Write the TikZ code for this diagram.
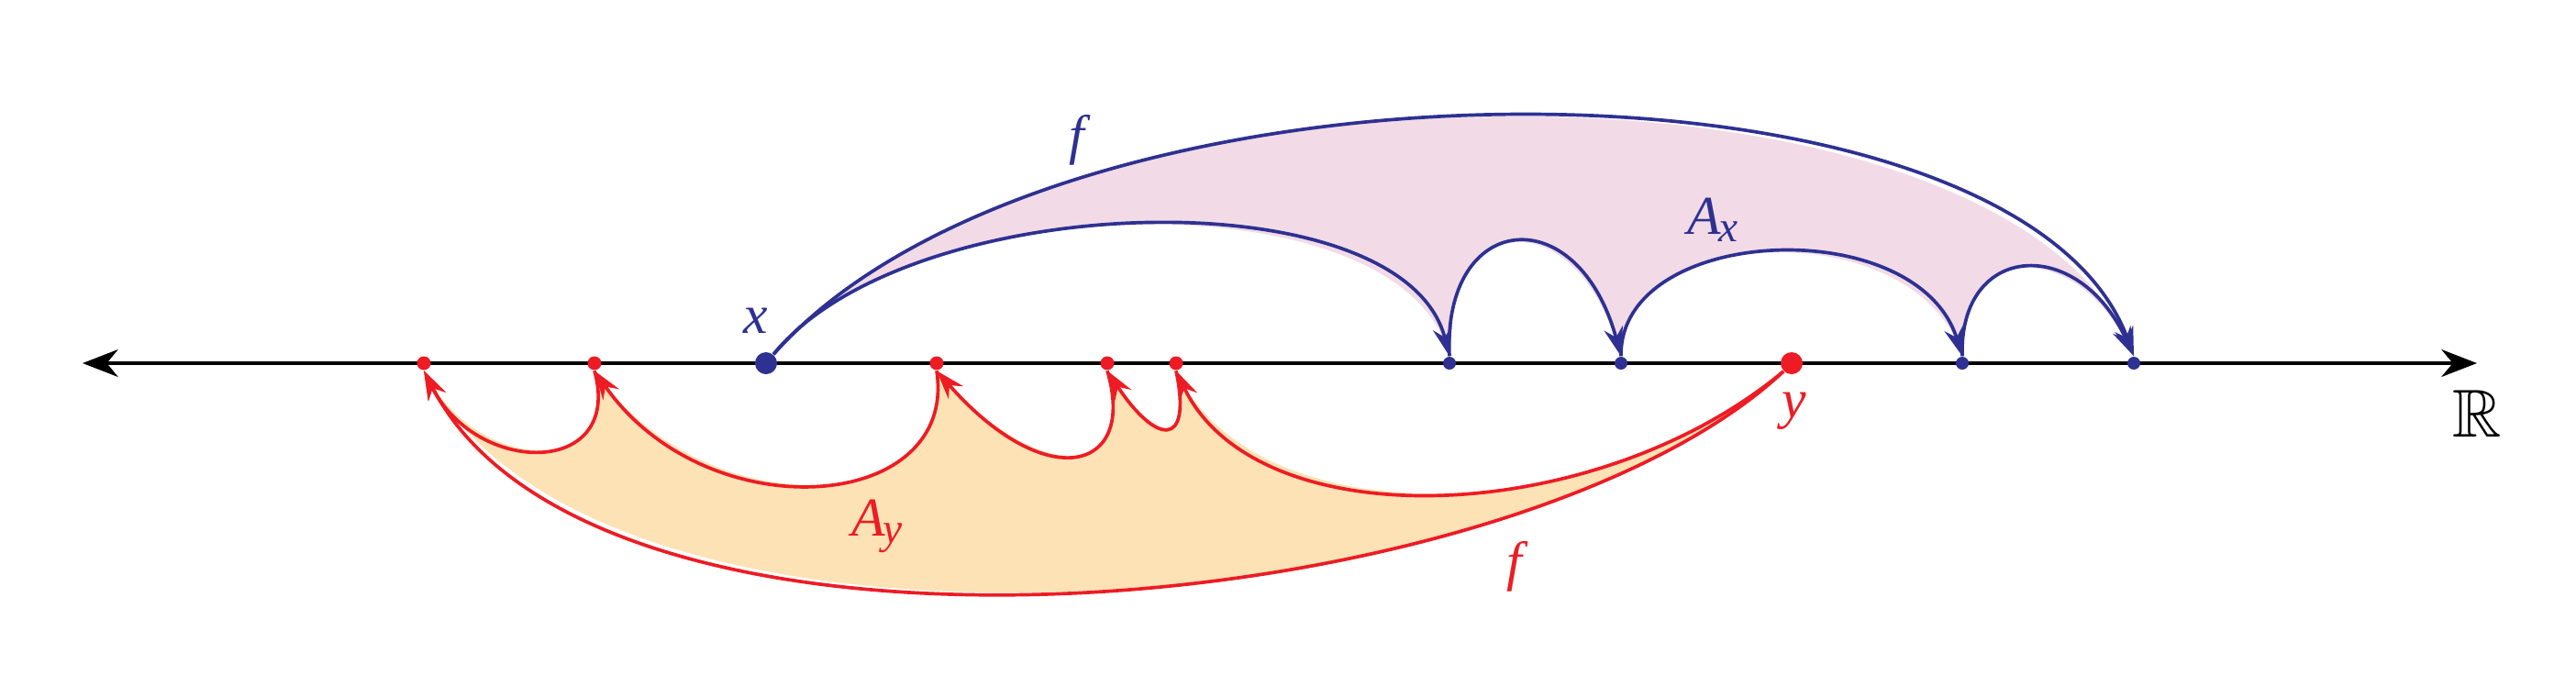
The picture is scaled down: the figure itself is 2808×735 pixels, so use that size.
\documentclass[tikz,border=0pt]{standalone}
\usepackage{amssymb}
\usepackage{fontspec}
\setmainfont{Liberation Serif}
\usetikzlibrary{arrows.meta}
\definecolor{fblue}{RGB}{46,49,146}
\definecolor{fred}{RGB}{237,28,36}
\definecolor{fpink}{RGB}{242,219,230}
\definecolor{forange}{RGB}{253,226,181}
\newcommand{\subtxt}[1]{\raisebox{-2.4pt}{\fontsize{13.5}{14}\selectfont #1}}

\begin{document}
\begin{tikzpicture}[
x=0.01cm,y=-0.01cm,
bigdot/.style={
  circle,
  inner sep=0pt,
  minimum size=0.24cm},
bluedot/.style={
  circle,
  fill=fblue,
  inner sep=0pt,
  minimum size=0.14cm},
reddot/.style={
  circle,
  fill=fred,
  inner sep=0pt,
  minimum size=0.15cm},
bluearc/.style={
  draw=fblue,
  line width=1.05pt,
  -{Stealth[length=9pt,width=6pt,inset=3pt]}},
redarc/.style={
  draw=fred,
  line width=1.05pt,
  -{Stealth[length=9pt,width=6pt,inset=3pt]}},
lbl/.style={
  font=\fontsize{17}{20}\selectfont\itshape}
]
\useasboundingbox (0,0) rectangle (2808,735);
% the real line
\coordinate (L) at (90,396);
\coordinate (Rt) at (2700,396);
\draw[line width=0.95pt,
  {Stealth[length=11pt,width=8.5pt,inset=3.5pt]}-{Stealth[length=11pt,width=8.5pt,inset=3.5pt]}]
  (L) -- (Rt);
% points
\node[bigdot,fill=fblue] (x) at (835,396) {};
\node[bigdot,fill=fred] (y) at (1953,396) {};
\foreach \Nodo/\px in {b1/1580,b2/1767,b3/2139,b4/2326}
  \node[bluedot] (\Nodo) at (\px,396) {};
\foreach \Nodo/\px in {r1/462,r2/648,r3/1021,r4/1207,r5/1282}
  \node[reddot] (\Nodo) at (\px,396) {};
% A_x and A_y
\fill[fpink]
  (x.50) .. controls (990,205) and (1530,190) .. (b1.north)
  .. controls (1572,230) and (1720,215) .. (b2.north)
  .. controls (1765,245) and (2090,230) .. (b3.north)
  .. controls (2135,265) and (2265,255) .. (b4.north)
  .. controls (2200,40) and (1150,40) .. (x.50) -- cycle;
\fill[forange]
  (y.225) .. controls (1740,575) and (1370,590) .. (r5.south)
  .. controls (1300,490) and (1260,485) .. (r4.south)
  .. controls (1240,515) and (1140,540) .. (r3.south)
  .. controls (1045,560) and (770,580) .. (r2.south)
  .. controls (680,520) and (520,520) .. (r1.south)
  .. controls (650,770) and (1650,680) .. (y.225) -- cycle;
% orbit of x
\draw[bluearc] (x.50) .. controls (1150,40) and (2200,40) .. (b4.north);
\draw[bluearc] (x.50) .. controls (990,205) and (1530,190) .. (b1.north);
\draw[bluearc] (b1.north) .. controls (1572,230) and (1720,215) .. (b2.north);
\draw[bluearc] (b2.north) .. controls (1765,245) and (2090,230) .. (b3.north);
\draw[bluearc] (b3.north) .. controls (2135,265) and (2265,255) .. (b4.north);
% orbit of y
\draw[redarc] (y.225) .. controls (1650,680) and (650,770) .. (r1.south);
\draw[redarc] (y.225) .. controls (1740,575) and (1370,590) .. (r5.south);
\draw[redarc] (r5.south) .. controls (1300,490) and (1260,485) .. (r4.south);
\draw[redarc] (r4.south) .. controls (1240,515) and (1140,540) .. (r3.south);
\draw[redarc] (r3.south) .. controls (1045,560) and (770,580) .. (r2.south);
\draw[redarc] (r2.south) .. controls (680,520) and (520,520) .. (r1.south);
% labels
\node[lbl,text=fblue] (xlab) at (824,350) {x};
\node[lbl,text=fred] (ylab) at (1956,448) {y};
\node[lbl,text=fblue] (fxlab) at (1174,153) {f};
\node[lbl,text=fred] (fylab) at (1651,618) {f};
\node[lbl,text=fblue] (Axlab) at (1867,240) {A\kern-0.5pt\subtxt{x}};
\node[lbl,text=fred] (Aylab) at (956,574) {A\kern-0.5pt\subtxt{y}};
\node (Rlab) at (2700,451) {\fontsize{21}{24}\selectfont$\mathbb{R}$};
\end{tikzpicture}
\end{document}
